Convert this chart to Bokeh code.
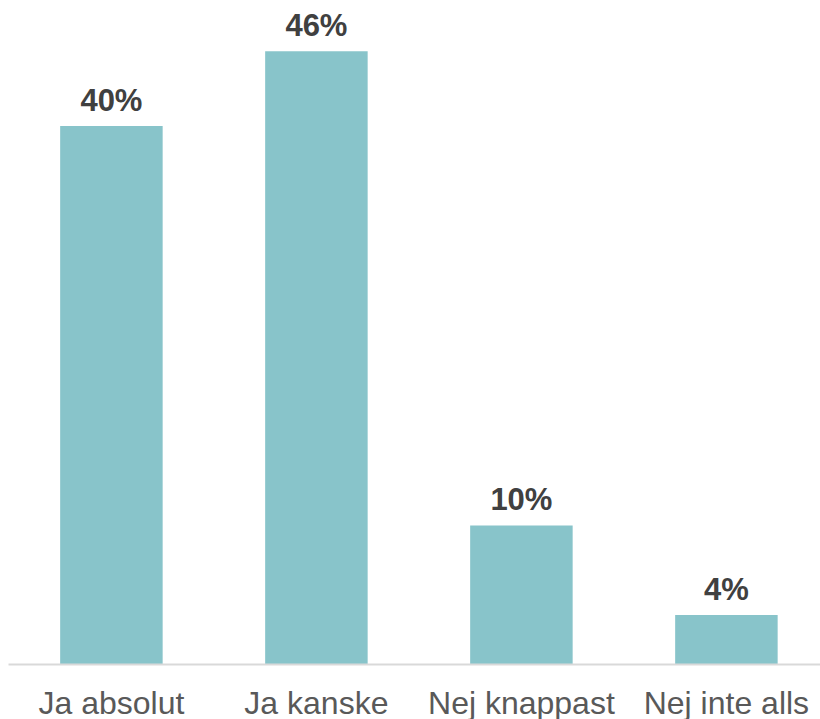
from bokeh.plotting import figure
from bokeh.models import ColumnDataSource, Range1d, FixedTicker
from bokeh.core.properties import value
from bokeh.embed import file_html
from bokeh.resources import INLINE

categories = ["Ja absolut", "Ja kanske", "Nej knappast", "Nej inte alls"]
values = [40.3, 45.9, 10.4, 3.7]
labels = ["40%", "46%", "10%", "4%"]

xs = list(range(len(categories)))
src = ColumnDataSource(dict(x=xs, top=values, label=labels))

p = figure(frame_width=812, frame_height=656, output_backend="svg",
           toolbar_location=None, x_range=Range1d(-0.502, 3.459),
           y_range=Range1d(0, 49.1), min_border=0,
           min_border_left=8, min_border_top=8)
p.outline_line_color = None
p.grid.visible = False
p.background_fill_color = "white"
p.border_fill_color = "white"

p.vbar(x="x", top="top", bottom=0, width=0.5, source=src,
       fill_color="#88C4CA", line_color=None)
p.text(x="x", y="top", text="label", source=src, text_align="center",
       text_baseline="alphabetic", y_offset=-26,
       text_font=value("Liberation Sans"), text_font_style="bold",
       text_font_size="31px", text_color="#404040")

p.yaxis.visible = False
xa = p.xaxis[0]
xa.ticker = FixedTicker(ticks=xs)
xa.major_label_overrides = {i: c for i, c in enumerate(categories)}
xa.major_tick_line_color = None
xa.minor_tick_line_color = None
xa.axis_line_color = "#D9D9D9"
xa.axis_line_width = 2
xa.major_label_text_font = "Liberation Sans"
xa.major_label_text_font_size = "32px"
xa.major_label_text_color = "#595959"
xa.major_label_standoff = 14

open("out.html", "w").write(file_html(p, INLINE))
